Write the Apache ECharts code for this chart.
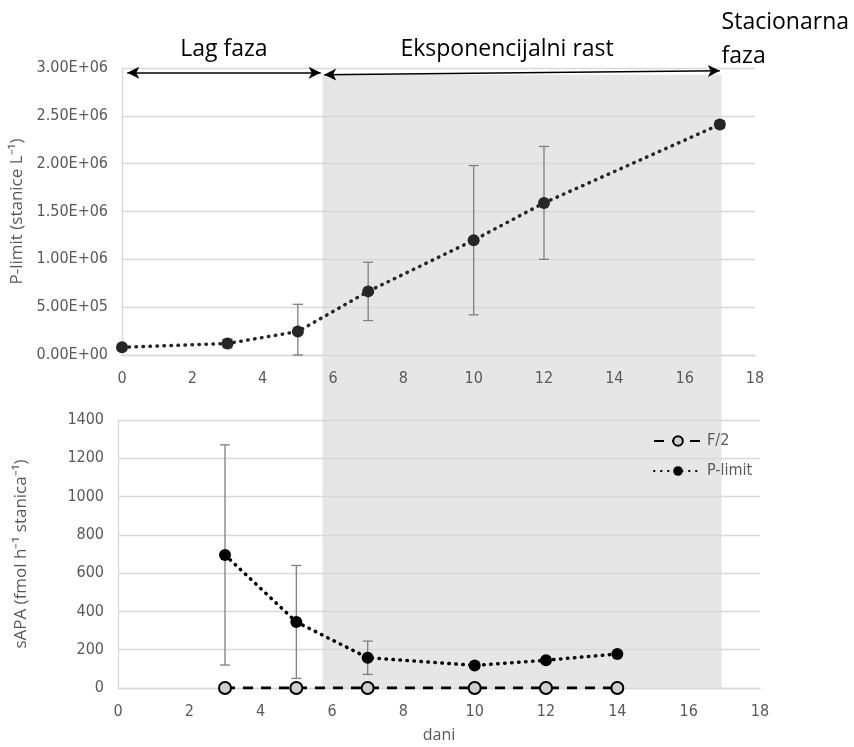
<!DOCTYPE html>
<html><head><meta charset="utf-8">
<script src="https://cdn.jsdelivr.net/npm/echarts@6/dist/echarts.min.js"></script>
<style>html,body{margin:0;padding:0;background:#fff}#c{width:854px;height:747px}</style>
</head><body><div id="c"></div>
<script>
// ---- data ----
const cellDays = [0, 3, 5, 7, 10, 12, 17];
const cellPLimit = [80000, 120000, 245000, 665000, 1200000, 1590000, 2410000];
const cellErr = [30000, 45000, 285000, 305000, 780000, 590000, 40000];

const sapaDays = [3, 5, 7, 10, 12, 14];
const sapaF2 = [0, 0, 0, 0, 0, 0];
const sapaPLimit = [695, 345, 158, 118, 145, 178];
const sapaPLimitErr = [575, 295, 87, 0, 0, 0];

const phaseBounds = [0.15, 5.65, 5.75, 17];
const phaseArrowY = [2.95e6, 2.95e6, 2.93e6, 2.97e6];
const shadeRange = [5.7, 17.05];
const phaseTexts = ['Lag faza', 'Eksponencijalni rast', 'Stacionarna', 'faza'];
const seriesNames = ['F/2', 'P-limit'];

const FONT = "'Liberation Sans Narrow','DejaVu Sans Condensed','Open Sans',sans-serif";
const GRAY = '#595959';
const LINEC = '#d9d9d9';

function sci(v) {
  if (v === 0) return '0.00E+00';
  const e = Math.floor(Math.log10(v));
  const m = v / Math.pow(10, e);
  return m.toFixed(2) + 'E+' + String(e).padStart(2, '0');
}
function plain(v) { return String(v); }

function errRender(color, cap) {
  return function (params, api) {
    const x = api.value(0), lo = api.value(1), hi = api.value(2);
    const p1 = api.coord([x, lo]), p2 = api.coord([x, hi]);
    const st = { stroke: color, lineWidth: 1.3 };
    return { type: 'group', children: [
      { type: 'line', shape: { x1: p1[0], y1: p1[1], x2: p2[0], y2: p2[1] }, style: st },
      { type: 'line', shape: { x1: p1[0] - cap, y1: p1[1], x2: p1[0] + cap, y2: p1[1] }, style: st },
      { type: 'line', shape: { x1: p2[0] - cap, y1: p2[1], x2: p2[0] + cap, y2: p2[1] }, style: st }
    ]};
  };
}

const axisLabel = { color: GRAY, fontSize: 16, fontFamily: FONT };
function xAx(grid, extra) {
  return Object.assign({
    type: 'value', gridIndex: grid, min: 0, max: 18, interval: 2,
    axisLine: { show: true, lineStyle: { color: LINEC, width: 1.3 } },
    axisTick: { show: false }, splitLine: { show: false },
    axisLabel: Object.assign({ margin: 16, formatter: plain }, axisLabel)
  }, extra || {});
}
function yAx(grid, max, interval, name, fmt) {
  return {
    type: 'value', gridIndex: grid, min: 0, max: max, interval: interval,
    name: name, nameLocation: 'middle', nameGap: grid === 0 ? 80 : 88,
    nameTextStyle: { color: GRAY, fontSize: 17, fontFamily: "'Open Sans',sans-serif" },
    axisLine: { show: true, lineStyle: { color: LINEC, width: 1.3 } },
    axisTick: { show: false },
    splitLine: { show: true, lineStyle: { color: LINEC, width: 1.3 } },
    axisLabel: Object.assign({ margin: 14, formatter: fmt }, axisLabel)
  };
}

const dotted = (c) => ({ color: c, width: 3.5, type: [0.5, 6.5], cap: 'round' });

const chart = echarts.init(document.getElementById('c'));
const option = {
  animation: false,
  backgroundColor: '#fff',
  grid: [
    { left: 122, right: 99, top: 68, height: 287, outerBoundsMode: 'none', containLabel: false },
    { left: 118, right: 94, top: 420, height: 268, outerBoundsMode: 'none', containLabel: false }
  ],
  xAxis: [
    xAx(0),
    xAx(1, { name: 'dani', nameLocation: 'middle', nameGap: 39,
      nameTextStyle: { color: GRAY, fontSize: 16, fontFamily: "'Open Sans',sans-serif" } })
  ],
  yAxis: [
    yAx(0, 3e6, 5e5, 'P-limit (stanice L⁻¹)', sci),
    yAx(1, 1400, 200, 'sAPA (fmol h⁻¹ stanica⁻¹)', plain)
  ],
  legend: {
    orient: 'vertical', left: 648, top: 428, itemWidth: 48, itemHeight: 12, itemGap: 14,
    data: seriesNames,
    textStyle: { color: GRAY, fontSize: 16, fontFamily: FONT }
  },
  series: [
    {
      type: 'custom', xAxisIndex: 0, yAxisIndex: 0, silent: true, z: 3,
      renderItem: errRender('#7f7f7f', 5),
      data: cellDays.map((d, i) => [d, Math.max(0, cellPLimit[i] - cellErr[i]), cellPLimit[i] + cellErr[i]])
    },
    {
      name: 'cells', type: 'line', xAxisIndex: 0, yAxisIndex: 0, z: 4,
      data: cellDays.map((d, i) => [d, cellPLimit[i]]),
      symbol: 'circle', symbolSize: 12,
      itemStyle: { color: '#262626' },
      lineStyle: dotted('#262626'),
      markLine: {
        silent: true, symbol: ['arrow', 'arrow'], symbolSize: [9, 12],
        label: { show: false },
        lineStyle: { color: '#000', width: 1.5, type: 'solid' },
        data: [
          [{ coord: [phaseBounds[0], phaseArrowY[0]] }, { coord: [phaseBounds[1], phaseArrowY[1]] }],
          [{ coord: [phaseBounds[2], phaseArrowY[2]] }, { coord: [phaseBounds[3], phaseArrowY[3]] }]
        ]
      }
    },
    {
      type: 'custom', xAxisIndex: 1, yAxisIndex: 1, silent: true, z: 3,
      renderItem: errRender('#7f7f7f', 5),
      data: sapaDays.map((d, i) => [d, sapaPLimit[i] - sapaPLimitErr[i], sapaPLimit[i] + sapaPLimitErr[i]])
    },
    {
      name: seriesNames[0], type: 'line', xAxisIndex: 1, yAxisIndex: 1, z: 4,
      data: sapaDays.map((d, i) => [d, sapaF2[i]]),
      symbol: 'circle', symbolSize: 12,
      itemStyle: { color: '#d0cece', borderColor: '#000', borderWidth: 2 },
      lineStyle: { color: '#000', width: 3, type: [10, 8] }
    },
    {
      name: seriesNames[1], type: 'line', xAxisIndex: 1, yAxisIndex: 1, z: 5,
      data: sapaDays.map((d, i) => [d, sapaPLimit[i]]),
      symbol: 'circle', symbolSize: 12,
      itemStyle: { color: '#000' },
      lineStyle: dotted('#000')
    }
  ]
};
chart.setOption(option);

// shaded exponential phase + phase labels, positioned through the axes
const sx1 = chart.convertToPixel({ xAxisIndex: 0 }, shadeRange[0]);
const sx2 = chart.convertToPixel({ xAxisIndex: 0 }, shadeRange[1]);
const sy1 = chart.convertToPixel({ yAxisIndex: 0 }, phaseArrowY[2]);
const sy2 = chart.convertToPixel({ yAxisIndex: 1 }, 0);
const lagC = chart.convertToPixel({ xAxisIndex: 0 }, 2.9);
const expC = chart.convertToPixel({ xAxisIndex: 0 }, 10.95);
const statL = chart.convertToPixel({ xAxisIndex: 0 }, 17.05);
const tStyle = { fill: '#000', fontSize: 23, fontFamily: "'Open Sans',sans-serif" };
chart.setOption({
  graphic: [
    { type: 'rect', z: -10, silent: true,
      shape: { x: sx1, y: sy1, width: sx2 - sx1, height: sy2 - sy1 },
      style: { fill: '#e7e6e6' } },
    { type: 'text', x: lagC, y: 49, silent: true,
      style: Object.assign({ text: phaseTexts[0], align: 'center', verticalAlign: 'middle' }, tStyle) },
    { type: 'text', x: expC, y: 49, silent: true,
      style: Object.assign({ text: phaseTexts[1], align: 'center', verticalAlign: 'middle' }, tStyle) },
    { type: 'text', x: statL, y: 22, silent: true,
      style: Object.assign({ text: phaseTexts[2], align: 'left', verticalAlign: 'middle' }, tStyle) },
    { type: 'text', x: statL, y: 56, silent: true,
      style: Object.assign({ text: phaseTexts[3], align: 'left', verticalAlign: 'middle' }, tStyle) }
  ]
});
</script></body></html>
